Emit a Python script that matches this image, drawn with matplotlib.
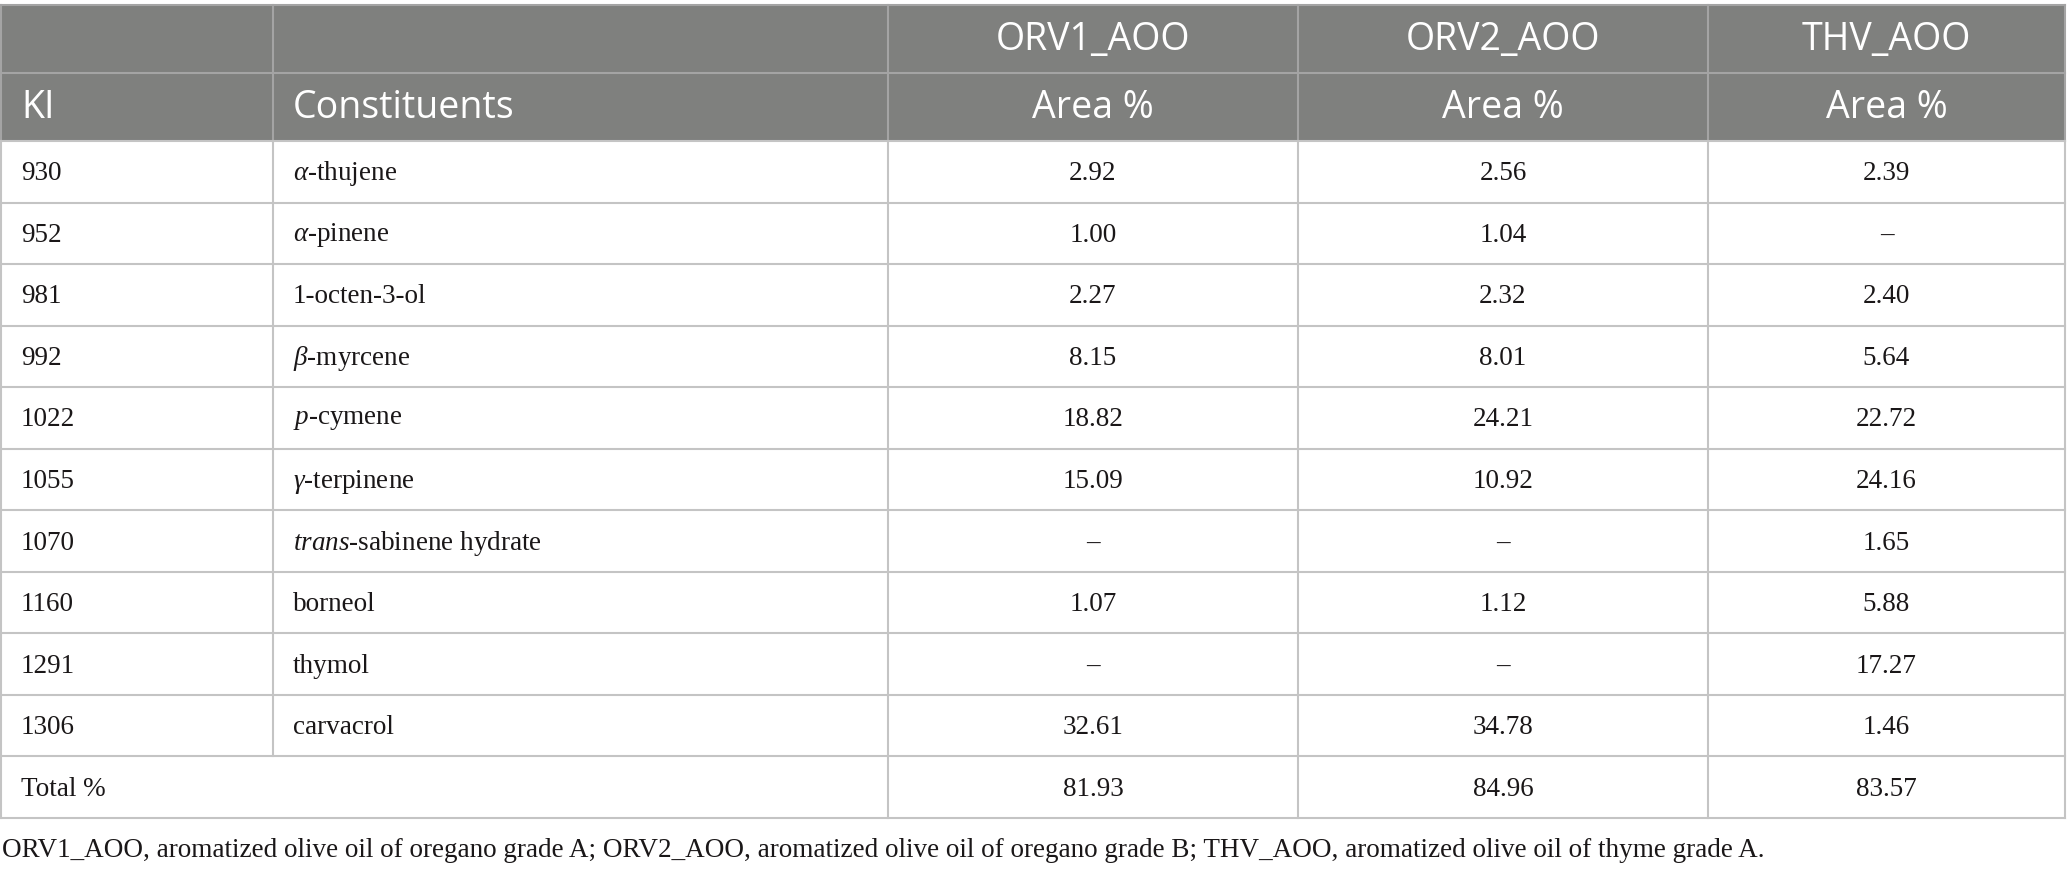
import matplotlib
matplotlib.use("Agg")
import matplotlib.pyplot as plt
from matplotlib.patches import Rectangle

plt.rcParams['mathtext.fontset'] = 'custom'
plt.rcParams['mathtext.rm'] = 'Liberation Serif'
plt.rcParams['mathtext.it'] = 'Liberation Serif:italic'

# ---------------- data ----------------
ki = ["930", "952", "981", "992", "1022", "1055", "1070", "1160", "1291", "1306"]
constituents = [r"$\alpha$-thujene", r"$\alpha$-pinene", "1-octen-3-ol",
                r"$\beta$-myrcene", r"$\it{p}$-cymene", r"$\gamma$-terpinene",
                r"$\it{trans}$-sabinene hydrate", "borneol", "thymol", "carvacrol"]
orv1 = ["2.92", "1.00", "2.27", "8.15", "18.82", "15.09", "–", "1.07", "–", "32.61"]
orv2 = ["2.56", "1.04", "2.32", "8.01", "24.21", "10.92", "–", "1.12", "–", "34.78"]
thv = ["2.39", "–", "2.40", "5.64", "22.72", "24.16", "1.65", "5.88", "17.27", "1.46"]
total_label = "Total %"
totals = ["81.93", "84.96", "83.57"]
samples = ["ORV1_AOO", "ORV2_AOO", "THV_AOO"]
header2 = ["KI", "Constituents", "Area %", "Area %", "Area %"]
footnote = ("ORV1_AOO, aromatized olive oil of oregano grade A; ORV2_AOO, aromatized "
            "olive oil of oregano grade B; THV_AOO, aromatized olive oil of thyme grade A.")

# ---------------- layout ----------------
W, H = 2067, 871
fig = plt.figure(figsize=(W / 100, H / 100), dpi=100)
ax = fig.add_axes([0, 0, 1, 1])
ax.set_xlim(0, W)
ax.set_ylim(H, 0)
ax.axis("off")

cols = [1, 273, 888, 1298, 1708, 2065]
top = 5
h1 = 73
h2 = 141
nrows = len(ki) + 1
bottom = 818
rh = (bottom - h2) / nrows

hdr_bg = "#7f807e"
hdr_line = "#a4a4a4"
body_line = "#c4c4c4"
txt = "#1a1718"
sans = "Open Sans"
serif = "Liberation Serif"
hfs = 27
bfs = 19.5

ax.add_patch(Rectangle((cols[0], top), cols[-1] - cols[0], h2 - top,
                       facecolor=hdr_bg, edgecolor="none", zorder=1))
# header lines
ax.plot([cols[0], cols[-1]], [top, top], color=hdr_line, lw=1.5, zorder=3)
ax.plot([cols[0], cols[-1]], [h1, h1], color=hdr_line, lw=1.5, zorder=3)
for x in cols:
    ax.plot([x, x], [top, h2], color=hdr_line, lw=1.5, zorder=3)

# body lines
for i in range(nrows + 1):
    y = h2 + i * rh
    ax.plot([cols[0], cols[-1]], [y, y], color=body_line, lw=1.5, zorder=3)
for j, x in enumerate(cols):
    y_end = bottom if j != 1 else h2 + (nrows - 1) * rh
    ax.plot([x, x], [h2, y_end], color=body_line, lw=1.5, zorder=3)

# header text
for k, s in enumerate(samples):
    ax.text((cols[k + 2] + cols[k + 3]) / 2, (top + h1) / 2 + 1, s, ha="center", va="center",
            color="white", fontsize=hfs, family=sans, zorder=4)
for k, s in enumerate(header2):
    if k < 2:
        ax.text(cols[k] + 20, (h1 + h2) / 2 + 1, s, ha="left", va="center",
                color="white", fontsize=hfs, family=sans, zorder=4)
    else:
        ax.text((cols[k] + cols[k + 1]) / 2, (h1 + h2) / 2 + 1, s, ha="center", va="center",
                color="white", fontsize=hfs, family=sans, zorder=4)

# body text
for i in range(len(ki)):
    yc = h2 + (i + 0.5) * rh + 2
    ax.text(cols[0] + 20, yc, ki[i], ha="left", va="center", color=txt,
            fontsize=bfs, family=serif, zorder=4)
    ax.text(cols[1] + 20, yc, constituents[i], ha="left", va="center", color=txt,
            fontsize=bfs, family=serif, zorder=4)
    for k, v in enumerate([orv1[i], orv2[i], thv[i]]):
        ax.text((cols[k + 2] + cols[k + 3]) / 2, yc, v, ha="center", va="center",
                color=txt, fontsize=bfs, family=serif, zorder=4)

yc = h2 + (nrows - 0.5) * rh + 2
ax.text(cols[0] + 20, yc, total_label, ha="left", va="center", color=txt,
        fontsize=bfs, family=serif, zorder=4)
for k, v in enumerate(totals):
    ax.text((cols[k + 2] + cols[k + 3]) / 2, yc, v, ha="center", va="center",
            color=txt, fontsize=bfs, family=serif, zorder=4)

ax.text(2, 850, footnote, ha="left", va="center", color=txt, fontsize=bfs,
        family=serif, zorder=4)

fig.savefig("out.png", dpi=100)
